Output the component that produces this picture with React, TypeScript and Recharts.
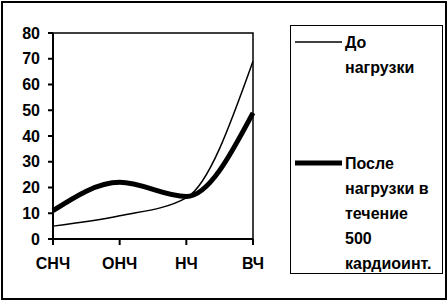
import React from 'react';
import { LineChart, Line, XAxis, YAxis, ReferenceArea } from 'recharts';

// categories on the x axis
const bands = ['СНЧ', 'ОНЧ', 'НЧ', 'ВЧ'];
// before load
const beforeLoad = [5, 9, 16, 69];
// after load during 500 cardio intervals
const afterLoad = [11, 22, 16.5, 49];
const yTicks = [0, 10, 20, 30, 40, 50, 60, 70, 80];

const seriesNames = ['До\nнагрузки', 'После\nнагрузки в\nтечение\n500\nкардиоинт.'];

const data = bands.map((b, i) => ({ band: b, before: beforeLoad[i], after: afterLoad[i] }));

const font = '"Liberation Sans", Arial, sans-serif';
const tickStyle = { fontFamily: font, fontSize: 16, fontWeight: 'bold', fill: '#000' };

const legendItems = [
    { name: seriesNames[0], width: 1.5, y: 42 },
    { name: seriesNames[1], width: 5, y: 163 },
];

const App: React.FC = () => {
    return (
        <div style={{ position: 'fixed', left: 0, top: 0, width: 448, height: 302, background: '#fff' }}>
            {/* outer frame */}
            <div style={{ position: 'absolute', left: 1, top: 1, width: 446, height: 299, border: '2px solid #000', boxSizing: 'border-box' }} />

            <div style={{ position: 'absolute', left: 0, top: 0 }}>
                <LineChart width={270} height={290} data={data} margin={{ top: 33, right: 17, bottom: 21, left: 0 }}>
                    <ReferenceArea x1="СНЧ" x2="ВЧ" y1={0} y2={80} fill="none" stroke="#000" strokeWidth={1.5} ifOverflow="visible" />
                    <XAxis
                        dataKey="band"
                        height={30}
                        tickSize={6}
                        tickMargin={13}
                        tick={tickStyle}
                        axisLine={{ stroke: '#000', strokeWidth: 2 }}
                        tickLine={{ stroke: '#000', strokeWidth: 2 }}
                        interval={0}
                    />
                    <YAxis
                        width={53}
                        domain={[0, 80]}
                        ticks={yTicks}
                        tickSize={5}
                        tickMargin={8}
                        tick={tickStyle}
                        axisLine={{ stroke: '#000', strokeWidth: 2 }}
                        tickLine={{ stroke: '#000', strokeWidth: 2 }}
                        interval={0}
                    />
                    <Line type="monotone" dataKey="before" stroke="#000" strokeWidth={1.5} dot={false} isAnimationActive={false} />
                    <Line type="monotone" dataKey="after" stroke="#000" strokeWidth={5} dot={false} isAnimationActive={false} />
                </LineChart>
            </div>

            {/* legend box */}
            <div style={{ position: 'absolute', left: 290, top: 25, width: 153, height: 249, border: '1.5px solid #000', boxSizing: 'border-box' }} />
            {legendItems.map((it, i) => (
                <React.Fragment key={i}>
                    <svg style={{ position: 'absolute', left: 295, top: it.y - 4 }} width={48} height={8}>
                        <line x1={0} y1={4} x2={47} y2={4} stroke="#000" strokeWidth={it.width} />
                    </svg>
                    <div
                        style={{
                            position: 'absolute',
                            left: 345,
                            top: it.y - 12.5,
                            fontFamily: font,
                            fontSize: 16,
                            fontWeight: 'bold',
                            lineHeight: '25px',
                            whiteSpace: 'pre-line',
                            color: '#000',
                        }}
                    >
                        {it.name}
                    </div>
                </React.Fragment>
            ))}
        </div>
    );
};

export default App;
